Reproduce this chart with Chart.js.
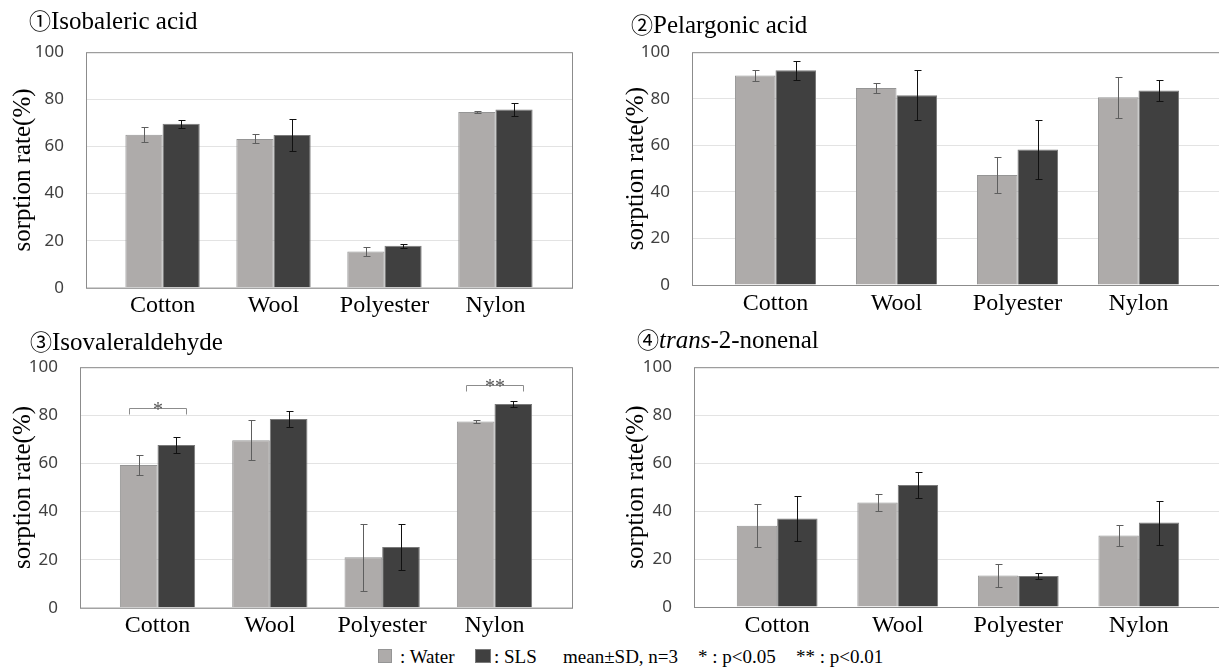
<!DOCTYPE html>
<html>
<head>
<meta charset="utf-8">
<script src="https://cdn.jsdelivr.net/npm/chart.js@4.4.1/dist/chart.umd.min.js"></script>
<style>
    html, body { margin: 0; padding: 0; background: #fff; }
    body { width: 1219px; height: 668px; overflow: hidden; position: relative; }
    canvas { position: absolute; }
    .ttl { position: absolute; font: 25px/24px 'Liberation Serif', serif; color: #000; white-space: nowrap; z-index: 2; }
    .ttl .num { font-family: 'Noto Sans CJK JP', 'DejaVu Sans', sans-serif; line-height: 0; font-size: 22px; }
    .leg { position: absolute; font: 19px/19px 'Liberation Serif', serif; color: #000; white-space: nowrap; }
    .sw { position: absolute; box-sizing: border-box; }
</style>
</head>
<body>
<div class="ttl" style="left:29px; top:9px;"><span class="num">①</span>Isobaleric acid</div>
<div class="ttl" style="left:631px; top:13px;"><span class="num">②</span>Pelargonic acid</div>
<div class="ttl" style="left:30px; top:330px;"><span class="num">③</span>Isovaleraldehyde</div>
<div class="ttl" style="left:637px; top:328px;"><span class="num">④</span><i>trans</i>-2-nonenal</div>

<canvas id="c1" style="left:0px; top:20px;" width="592" height="300"></canvas>
<canvas id="c2" style="left:610px; top:20px;" width="625" height="300"></canvas>
<canvas id="c3" style="left:0px; top:335px;" width="592" height="305"></canvas>
<canvas id="c4" style="left:610px; top:335px;" width="625" height="305"></canvas>

<div class="sw" style="left:378px; top:649px; width:14px; height:14px; background:#aeabaa; border:1px solid #959595;"></div>
<div class="leg" style="left:400px; top:647px;">: Water</div>
<div class="sw" style="left:475px; top:649px; width:16px; height:14px; background:#404040; border:1px solid #7a7a7a;"></div>
<div class="leg" style="left:494px; top:647px;">: SLS</div>
<div class="leg" style="left:563px; top:647px;">mean±SD, n=3</div>
<div class="leg" style="left:698px; top:647px;">* : p&lt;0.05</div>
<div class="leg" style="left:796px; top:647px;">** : p&lt;0.01</div>

<script>
// categories (fabrics)
const categories = ['Cotton', 'Wool', 'Polyester', 'Nylon'];
const yTicks = [0, 20, 40, 60, 80, 100];

// 1 Isobaleric acid
const isoacidWater = [65.0, 63.2, 15.4, 74.6];
const isoacidWaterSd = [3.2, 1.9, 2.0, 0.5];
const isoacidSls = [69.6, 64.9, 17.8, 75.7];
const isoacidSlsSd = [1.8, 6.8, 0.9, 2.7];

// 2 Pelargonic acid
const pelargWater = [90.0, 84.6, 47.2, 80.6];
const pelargWaterSd = [2.5, 2.0, 7.7, 8.8];
const pelargSls = [92.2, 81.5, 58.2, 83.5];
const pelargSlsSd = [4.2, 10.8, 12.6, 4.6];

// 3 Isovaleraldehyde
const isovalWater = [59.4, 69.6, 21.0, 77.4];
const isovalWaterSd = [4.0, 8.3, 14.0, 0.7];
const isovalSls = [67.7, 78.5, 25.3, 84.7];
const isovalSlsSd = [3.2, 3.5, 9.4, 1.1];
const isovalSig = [
    { cat: 0, level: 83.0, mark: '*' },
    { cat: 3, level: 92.5, mark: '**' },
];

// 4 trans-2-nonenal
const nonenalWater = [33.9, 43.6, 13.1, 29.8];
const nonenalWaterSd = [9.0, 3.7, 4.8, 4.2];
const nonenalSls = [36.9, 50.9, 12.9, 35.2];
const nonenalSlsSd = [9.2, 5.5, 1.4, 9.2];

const WATER = '#aeabaa';
const SLS = '#404040';

// frame round the plot area (Excel style box)
const framePlugin = {
    id: 'frame',
    afterDatasetsDraw(chart) {
        const { ctx, chartArea: a } = chart;
        ctx.save();
        ctx.strokeStyle = '#8c8c8c';
        ctx.lineWidth = 1;
        ctx.strokeRect(a.left + 0.5, a.top + 0.5, a.right - a.left, a.bottom - a.top);
        ctx.restore();
    },
};

// error bars (mean ± SD)
const errorBarPlugin = {
    id: 'errorBars',
    afterDatasetsDraw(chart) {
        const { ctx } = chart;
        const y = chart.scales.y;
        chart.data.datasets.forEach((ds, i) => {
            const meta = chart.getDatasetMeta(i);
            ctx.save();
            ctx.strokeStyle = ds.errColor;
            ctx.lineWidth = 1;
            meta.data.forEach((bar, j) => {
                const v = ds.data[j].y;
                const sd = ds.sd[j];
                const x = Math.round(bar.x) + 0.5;
                const top = Math.round(y.getPixelForValue(v + sd)) + 0.5;
                const bot = Math.round(y.getPixelForValue(v - sd)) + 0.5;
                ctx.beginPath();
                ctx.moveTo(x, top);
                ctx.lineTo(x, bot);
                ctx.moveTo(x - 3, top);
                ctx.lineTo(x + 4, top);
                ctx.moveTo(x - 3, bot);
                ctx.lineTo(x + 4, bot);
                ctx.stroke();
            });
            ctx.restore();
        });
    },
};

// significance brackets
const sigPlugin = {
    id: 'sig',
    afterDatasetsDraw(chart, args, opts) {
        const marks = opts.marks || [];
        if (!marks.length) return;
        const { ctx } = chart;
        const x = chart.scales.x;
        const y = chart.scales.y;
        ctx.save();
        ctx.strokeStyle = '#8c8c8c';
        ctx.lineWidth = 1;
        ctx.fillStyle = '#555';
        ctx.font = '20px "Liberation Serif", serif';
        ctx.textAlign = 'center';
        ctx.textBaseline = 'alphabetic';
        marks.forEach(m => {
            const x0 = Math.round(x.getPixelForValue(m.cat - 0.25)) + 0.5;
            const x1 = Math.round(x.getPixelForValue(m.cat + 0.25)) + 0.5;
            const yt = Math.round(y.getPixelForValue(m.level)) + 0.5;
            const yb = Math.round(y.getPixelForValue(m.level - 2.4)) + 0.5;
            ctx.beginPath();
            ctx.moveTo(x0, yb);
            ctx.lineTo(x0, yt);
            ctx.lineTo(x1, yt);
            ctx.lineTo(x1, yb);
            ctx.stroke();
            ctx.fillText(m.mark, (x0 + x1) / 2, yt + 7);
        });
        ctx.restore();
    },
};

function makePanel(id, water, waterSd, sls, slsSd, box, marks) {
    const canvas = document.getElementById(id);
    const toPts = arr => arr.map((v, i) => ({ x: i, y: v }));
    return new Chart(canvas, {
        type: 'bar',
        data: {
            datasets: [
                {
                    label: 'Water',
                    data: toPts(water),
                    sd: waterSd,
                    errColor: '#5e5e5e',
                    backgroundColor: WATER,
                    borderColor: '#959595',
                    borderWidth: 1,
                },
                {
                    label: 'SLS',
                    data: toPts(sls),
                    sd: slsSd,
                    errColor: '#111',
                    backgroundColor: SLS,
                    borderColor: '#7a7a7a',
                    borderWidth: 1,
                },
            ],
        },
        options: {
            responsive: false,
            animation: false,
            events: [],
            categoryPercentage: 0.67,
            barPercentage: 1.0,
            layout: { padding: { left: 0, top: box.top, right: box.right, bottom: 0 } },
            plugins: {
                legend: { display: false },
                tooltip: { enabled: false },
                sig: { marks: marks || [] },
            },
            scales: {
                x: {
                    type: 'linear',
                    min: -0.69,
                    max: 3.69,
                    offset: false,
                    grid: { display: false, drawTicks: false },
                    border: { display: false },
                    ticks: {
                        stepSize: 1,
                        includeBounds: false,
                        autoSkip: false,
                        maxRotation: 0,
                        padding: 4,
                        color: '#000',
                        font: { family: "'Liberation Serif', serif", size: 24 },
                        callback: v => categories[v] ?? '',
                    },
                    afterFit: s => { s.height = box.xh; },
                },
                y: {
                    min: 0,
                    max: 100,
                    afterBuildTicks: s => { s.ticks = yTicks.map(v => ({ value: v })); },
                    grid: { color: '#e3e3e3', drawTicks: false },
                    border: { display: false },
                    ticks: {
                        padding: 22,
                        color: '#404040',
                        font: { family: "'Noto Sans', sans-serif", size: 17 },
                    },
                    title: {
                        display: true,
                        text: 'sorption rate(%)',
                        color: '#000',
                        font: { family: "'Liberation Serif', serif", size: 25 },
                        padding: { top: box.tp, bottom: 0 },
                    },
                    afterFit: s => { s.width = box.yw; },
                },
            },
        },
        plugins: [framePlugin, errorBarPlugin, sigPlugin],
    });
}

makePanel('c1', isoacidWater, isoacidWaterSd, isoacidSls, isoacidSlsSd,
    { top: 27, right: 20, xh: 32, yw: 86, tp: 8 });
makePanel('c2', pelargWater, pelargWaterSd, pelargSls, pelargSlsSd,
    { top: 28, right: 13, xh: 35, yw: 82, tp: 11 });
makePanel('c3', isovalWater, isovalWaterSd, isovalSls, isovalSlsSd,
    { top: 26, right: 20, xh: 31, yw: 80, tp: 8 }, isovalSig);
makePanel('c4', nonenalWater, nonenalWaterSd, nonenalSls, nonenalSlsSd,
    { top: 26, right: 13, xh: 33, yw: 84, tp: 11 });
</script>
</body>
</html>
